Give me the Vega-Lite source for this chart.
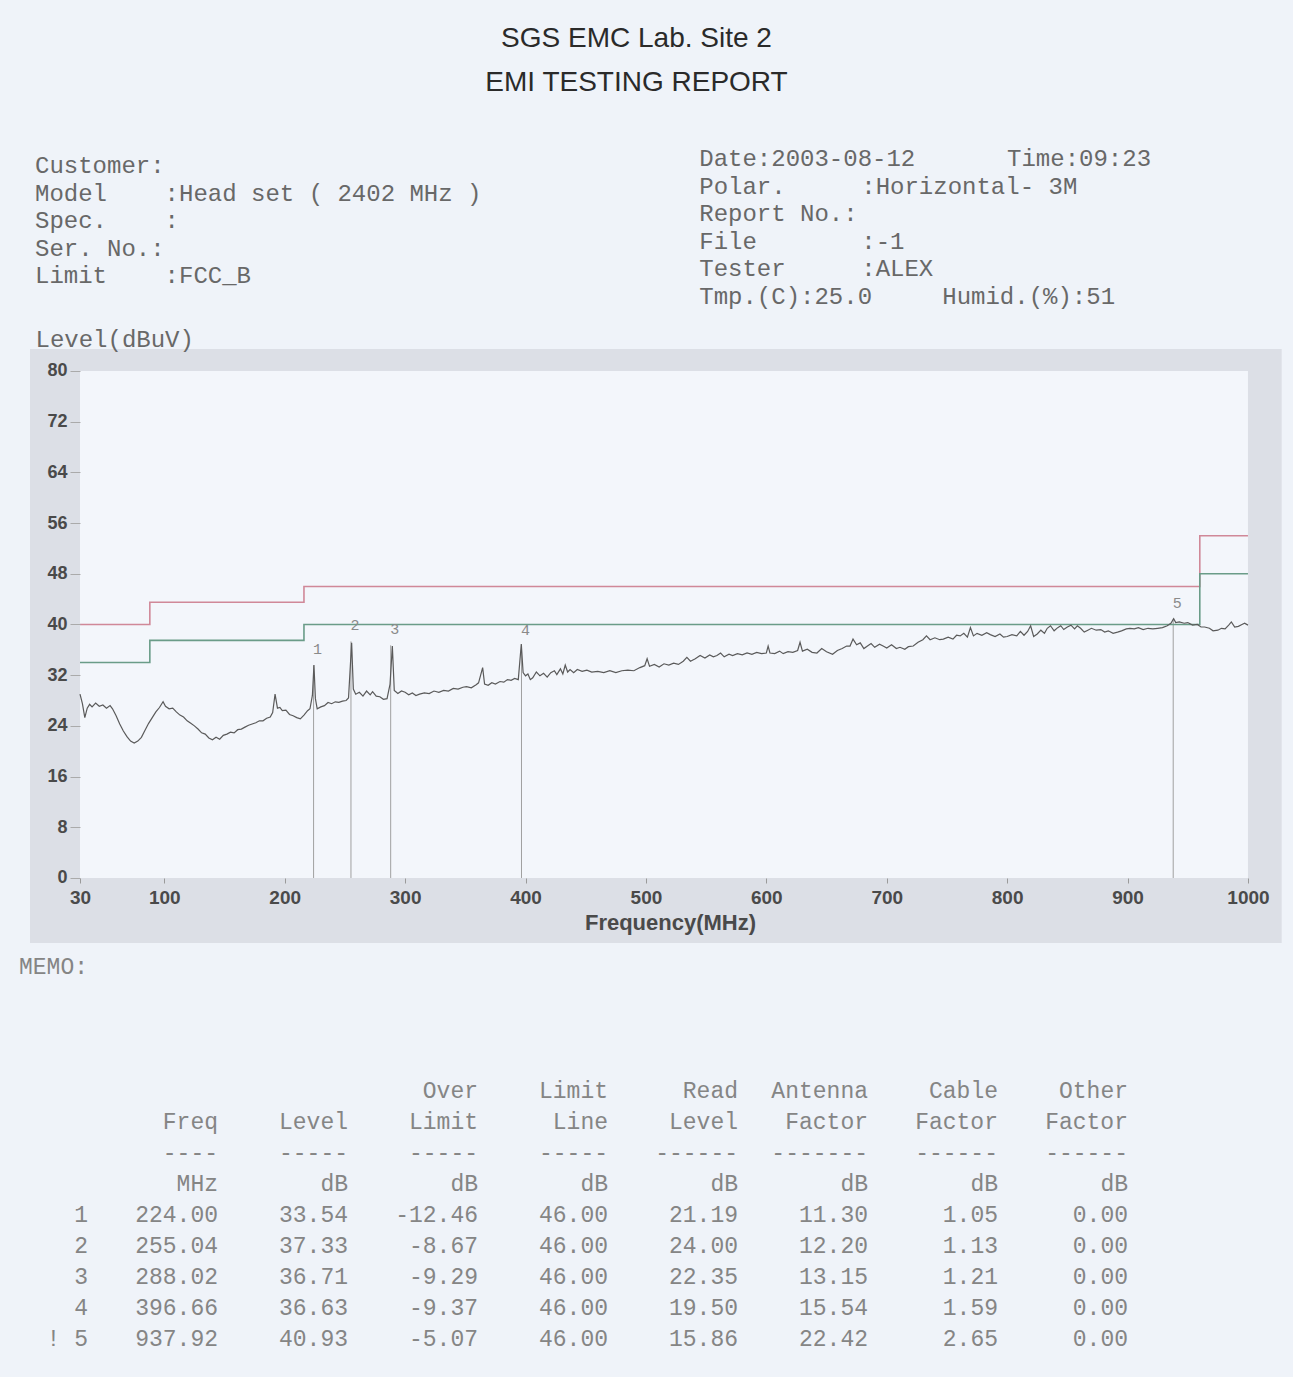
{
  "$schema": "https://vega.github.io/schema/vega-lite/v6.json",
  "background": "#eff3f9",
  "padding": {"left": 0, "right": 0, "top": 25, "bottom": 0},
  "bounds": "flush",
  "spacing": 0,
  "title": {
    "text": "SGS EMC Lab. Site 2",
    "subtitle": "EMI TESTING REPORT",
    "anchor": "middle",
    "font": "Liberation Sans",
    "fontSize": 28,
    "fontWeight": "normal",
    "color": "#2a2a2a",
    "subtitleFont": "Liberation Sans",
    "subtitleFontSize": 28,
    "subtitleFontWeight": "normal",
    "subtitleColor": "#2a2a2a",
    "subtitlePadding": 16,
    "offset": 13,
    "dx": -10
  },
  "config": {
    "view": {"stroke": null},
    "locale": {"number": {"decimal": ".", "thousands": ",", "grouping": [3], "currency": ["$", ""], "minus": "-"}}
  },
  "datasets": {
    "info": [
      {"side": "L", "line": 0, "col": 0, "text": "Customer:"},
      {"side": "L", "line": 1, "col": 0, "text": "Model"},
      {"side": "L", "line": 1, "col": 8, "text": ":Head set ( 2402 MHz )"},
      {"side": "L", "line": 2, "col": 0, "text": "Spec."},
      {"side": "L", "line": 2, "col": 8, "text": ":"},
      {"side": "L", "line": 3, "col": 0, "text": "Ser. No.:"},
      {"side": "L", "line": 4, "col": 0, "text": "Limit"},
      {"side": "L", "line": 4, "col": 8, "text": ":FCC_B"},
      {"side": "R", "line": 0, "col": 41, "text": "Date:2003-08-12"},
      {"side": "R", "line": 0, "col": 60, "text": "Time:09:23"},
      {"side": "R", "line": 1, "col": 41, "text": "Polar."},
      {"side": "R", "line": 1, "col": 51, "text": ":Horizontal- 3M"},
      {"side": "R", "line": 2, "col": 41, "text": "Report No.:"},
      {"side": "R", "line": 3, "col": 41, "text": "File"},
      {"side": "R", "line": 3, "col": 51, "text": ":-1"},
      {"side": "R", "line": 4, "col": 41, "text": "Tester"},
      {"side": "R", "line": 4, "col": 51, "text": ":ALEX"},
      {"side": "R", "line": 5, "col": 41, "text": "Tmp.(C):25.0"},
      {"side": "R", "line": 5, "col": 56, "text": "Humid.(%):51"}
    ],
    "limits": [
      {"f": 30, "limit": 40, "margin": 34},
      {"f": 88, "limit": 43.5, "margin": 37.5},
      {"f": 216, "limit": 46, "margin": 40},
      {"f": 960, "limit": 54, "margin": 48},
      {"f": 1000, "limit": 54, "margin": 48}
    ],
    "peaks": [
      {"No": "1", "Idx": "1", "Freq": 224.00, "Level": 33.54, "OverLimit": -12.46, "LimitLine": 46.00, "ReadLevel": 21.19, "AntennaFactor": 11.30, "CableFactor": 1.05, "OtherFactor": 0.00},
      {"No": "2", "Idx": "2", "Freq": 255.04, "Level": 37.33, "OverLimit": -8.67, "LimitLine": 46.00, "ReadLevel": 24.00, "AntennaFactor": 12.20, "CableFactor": 1.13, "OtherFactor": 0.00},
      {"No": "3", "Idx": "3", "Freq": 288.02, "Level": 36.71, "OverLimit": -9.29, "LimitLine": 46.00, "ReadLevel": 22.35, "AntennaFactor": 13.15, "CableFactor": 1.21, "OtherFactor": 0.00},
      {"No": "4", "Idx": "4", "Freq": 396.66, "Level": 36.63, "OverLimit": -9.37, "LimitLine": 46.00, "ReadLevel": 19.50, "AntennaFactor": 15.54, "CableFactor": 1.59, "OtherFactor": 0.00},
      {"No": "5", "Idx": "!  5", "Freq": 937.92, "Level": 40.93, "OverLimit": -5.07, "LimitLine": 46.00, "ReadLevel": 15.86, "AntennaFactor": 22.42, "CableFactor": 2.65, "OtherFactor": 0.00}
    ],
    "tablehead": [
      {"row": "memo", "key": "Idx", "text": "MEMO:"},
      {"row": "h1", "key": "OverLimit", "text": "Over"},
      {"row": "h1", "key": "LimitLine", "text": "Limit"},
      {"row": "h1", "key": "ReadLevel", "text": "Read"},
      {"row": "h1", "key": "AntennaFactor", "text": "Antenna"},
      {"row": "h1", "key": "CableFactor", "text": "Cable"},
      {"row": "h1", "key": "OtherFactor", "text": "Other"},
      {"row": "h2", "key": "Freq", "text": "Freq"},
      {"row": "h2", "key": "Level", "text": "Level"},
      {"row": "h2", "key": "OverLimit", "text": "Limit"},
      {"row": "h2", "key": "LimitLine", "text": "Line"},
      {"row": "h2", "key": "ReadLevel", "text": "Level"},
      {"row": "h2", "key": "AntennaFactor", "text": "Factor"},
      {"row": "h2", "key": "CableFactor", "text": "Factor"},
      {"row": "h2", "key": "OtherFactor", "text": "Factor"},
      {"row": "dash", "key": "Freq", "text": "----"},
      {"row": "dash", "key": "Level", "text": "-----"},
      {"row": "dash", "key": "OverLimit", "text": "-----"},
      {"row": "dash", "key": "LimitLine", "text": "-----"},
      {"row": "dash", "key": "ReadLevel", "text": "------"},
      {"row": "dash", "key": "AntennaFactor", "text": "-------"},
      {"row": "dash", "key": "CableFactor", "text": "------"},
      {"row": "dash", "key": "OtherFactor", "text": "------"},
      {"row": "unit", "key": "Freq", "text": "MHz"},
      {"row": "unit", "key": "Level", "text": "dB"},
      {"row": "unit", "key": "OverLimit", "text": "dB"},
      {"row": "unit", "key": "LimitLine", "text": "dB"},
      {"row": "unit", "key": "ReadLevel", "text": "dB"},
      {"row": "unit", "key": "AntennaFactor", "text": "dB"},
      {"row": "unit", "key": "CableFactor", "text": "dB"},
      {"row": "unit", "key": "OtherFactor", "text": "dB"}
    ],
    "trace": [
      {"f":30,"L":29.0},{"f":32,"L":27.5},{"f":34,"L":25.3},{"f":36,"L":26.8},{"f":38,"L":27.4},{"f":40,"L":27.0},{"f":43,"L":27.6},{"f":46,"L":27.1},{"f":49,"L":27.3},{"f":52,"L":26.8},{"f":55,"L":27.2},{"f":57,"L":26.7},{"f":60,"L":25.6},{"f":63,"L":24.3},{"f":66,"L":23.2},{"f":69,"L":22.3},{"f":72,"L":21.6},{"f":75,"L":21.3},{"f":78,"L":21.6},
      {"f":81,"L":22.2},{"f":84,"L":23.3},{"f":87,"L":24.4},{"f":90,"L":25.3},{"f":93,"L":26.2},{"f":96,"L":26.9},{"f":99,"L":27.8},{"f":101,"L":27.1},{"f":104,"L":26.7},{"f":107,"L":26.8},{"f":110,"L":26.2},{"f":113,"L":25.7},{"f":116,"L":25.4},{"f":119,"L":24.8},{"f":122,"L":24.4},{"f":125,"L":24.0},{"f":128,"L":23.5},{"f":131,"L":22.9},{"f":134,"L":22.7},{"f":137,"L":22.1},{"f":140,"L":21.8},{"f":143,"L":22.2},{"f":146,"L":21.9},{"f":149,"L":22.5},{"f":152,"L":22.7},{"f":155,"L":23.0},{"f":158,"L":22.9},{"f":161,"L":23.4},{"f":164,"L":23.5},{"f":167,"L":23.8},{"f":170,"L":24.1},{"f":173,"L":24.3},{"f":176,"L":24.5},{"f":179,"L":24.8},
      {"f":182,"L":24.8},{"f":185,"L":25.2},{"f":188,"L":25.4},{"f":190,"L":26.1},{"f":192,"L":29.0},{"f":194,"L":26.8},{"f":196,"L":26.9},{"f":198,"L":26.4},{"f":201,"L":26.5},{"f":204,"L":25.8},{"f":207,"L":25.6},{"f":210,"L":25.3},{"f":213,"L":25.1},{"f":216,"L":25.7},{"f":219,"L":26.4},{"f":221,"L":26.7},{"f":223,"L":28.8},{"f":224.3,"L":33.6},{"f":225.5,"L":28.3},{"f":227,"L":26.7},{"f":230,"L":27.0},{"f":233,"L":27.2},{"f":236,"L":27.7},{"f":239,"L":27.5},{"f":242,"L":27.8},{"f":245,"L":27.7},{"f":248,"L":27.9},{"f":251,"L":28.0},{"f":253,"L":28.4},{"f":255.6,"L":37.1},{"f":257,"L":29.8},{"f":259,"L":29.0},{"f":262,"L":29.3},{"f":265,"L":28.7},{"f":268,"L":29.5},{"f":271,"L":28.9},{"f":273,"L":29.4},{"f":276,"L":28.7},
      {"f":279,"L":28.6},{"f":282,"L":28.2},{"f":285,"L":28.3},{"f":287.5,"L":30.6},{"f":289.4,"L":36.6},{"f":291,"L":29.6},{"f":294,"L":29.1},{"f":297,"L":29.5},{"f":300,"L":29.3},{"f":303,"L":28.9},{"f":306,"L":29.2},{"f":309,"L":28.8},{"f":312,"L":29.0},{"f":316,"L":29.2},{"f":320,"L":29.1},{"f":324,"L":29.5},{"f":328,"L":29.3},{"f":332,"L":29.6},{"f":336,"L":29.5},{"f":340,"L":29.9},{"f":344,"L":29.8},{"f":348,"L":30.1},{"f":351,"L":30.2},{"f":355,"L":30.0},{"f":359,"L":30.5},{"f":361,"L":30.8},{"f":364.4,"L":33.2},{"f":366,"L":30.6},{"f":369,"L":30.4},{"f":372,"L":30.8},{"f":375,"L":30.6},
      {"f":378.8,"L":31.0},{"f":382,"L":30.9},{"f":385,"L":31.3},{"f":388,"L":31.2},{"f":391,"L":31.5},{"f":394,"L":31.3},{"f":396.5,"L":36.9},{"f":398,"L":32.4},{"f":400,"L":31.9},{"f":402,"L":32.2},{"f":404,"L":31.3},{"f":406,"L":31.6},{"f":409,"L":32.5},{"f":412,"L":31.9},{"f":415,"L":32.3},{"f":418,"L":31.7},{"f":421,"L":32.4},{"f":424,"L":32.7},{"f":426,"L":32.1},{"f":429,"L":33.0},{"f":431,"L":32.2},{"f":433,"L":33.6},{"f":435,"L":32.5},{"f":437,"L":32.9},{"f":440,"L":32.4},{"f":443,"L":32.9},{"f":447,"L":32.6},{"f":451,"L":32.8},{"f":455,"L":32.5},{"f":460,"L":32.6},{"f":465,"L":32.4},{"f":470,"L":32.7},{"f":475,"L":32.4},{"f":480,"L":32.7},
      {"f":485,"L":32.8},{"f":490,"L":32.7},{"f":495,"L":33.2},{"f":499,"L":33.5},{"f":501,"L":34.6},{"f":503,"L":33.4},{"f":507,"L":33.7},{"f":511,"L":33.3},{"f":515,"L":33.8},{"f":519,"L":33.6},{"f":523,"L":33.9},{"f":527,"L":33.7},{"f":531,"L":34.2},{"f":534,"L":34.8},{"f":537,"L":34.2},{"f":541,"L":34.6},{"f":545,"L":35.1},{"f":549,"L":34.7},{"f":553,"L":35.2},{"f":556,"L":34.9},{"f":559,"L":35.1},{"f":562,"L":35.5},{"f":565,"L":34.9},{"f":569,"L":35.3},{"f":572,"L":35.1},{"f":576,"L":35.4},{"f":580,"L":35.2},
      {"f":584,"L":35.5},{"f":588,"L":35.3},{"f":592,"L":35.6},{"f":596,"L":35.4},{"f":600,"L":35.5},{"f":601.5,"L":36.6},{"f":603,"L":35.5},{"f":607,"L":35.4},{"f":611,"L":35.8},{"f":614,"L":35.4},{"f":618,"L":35.7},{"f":622,"L":35.6},{"f":626,"L":35.9},{"f":628,"L":37.2},{"f":630,"L":35.8},{"f":634,"L":36.1},{"f":638,"L":35.6},{"f":642,"L":35.5},{"f":646,"L":36.2},{"f":650,"L":35.7},{"f":655,"L":35.3},{"f":659,"L":35.9},{"f":663,"L":36.2},{"f":666.7,"L":36.6},{"f":669.5,"L":36.6},{"f":672,"L":37.7},{"f":675,"L":36.8},{"f":678,"L":37.1},
      {"f":681,"L":36.2},{"f":684,"L":36.6},{"f":687,"L":37.0},{"f":690,"L":36.4},{"f":694,"L":36.9},{"f":697,"L":36.6},{"f":700,"L":36.3},{"f":704,"L":36.8},{"f":708,"L":36.2},{"f":711,"L":36.4},{"f":715,"L":36.1},{"f":718,"L":36.5},{"f":722,"L":36.6},{"f":726,"L":37.2},{"f":730,"L":37.6},{"f":733,"L":38.2},{"f":736,"L":37.6},{"f":740,"L":37.9},{"f":744,"L":37.6},{"f":747,"L":37.7},{"f":751,"L":38.0},{"f":755,"L":37.7},{"f":758,"L":38.3},{"f":761,"L":38.2},{"f":764,"L":38.6},{"f":767,"L":38.0},{"f":769.5,"L":39.5},{"f":772,"L":38.2},{"f":775,"L":38.6},{"f":779,"L":38.3},
      {"f":783,"L":38.7},{"f":786,"L":38.4},{"f":790,"L":38.1},{"f":794,"L":38.5},{"f":797,"L":38.0},{"f":800,"L":38.1},{"f":804,"L":38.4},{"f":808,"L":38.2},{"f":811,"L":38.9},{"f":814,"L":38.3},{"f":817,"L":38.9},{"f":819.5,"L":39.8},{"f":822,"L":38.1},{"f":825,"L":38.5},{"f":828,"L":39.1},{"f":831,"L":38.6},{"f":833.3,"L":39.4},{"f":836,"L":39.8},{"f":839,"L":39.0},{"f":842,"L":39.5},{"f":844.5,"L":39.8},{"f":847,"L":39.2},{"f":850,"L":39.6},{"f":853,"L":39.9},{"f":856,"L":39.3},{"f":858.3,"L":39.8},{"f":861,"L":39.4},{"f":864,"L":38.8},{"f":867,"L":39.1},{"f":870,"L":39.4},{"f":874,"L":39.1},{"f":877.8,"L":39.2},
      {"f":881,"L":38.8},{"f":884,"L":39.0},{"f":888,"L":38.6},{"f":891.7,"L":38.8},{"f":895,"L":39.0},{"f":899,"L":39.3},{"f":902,"L":39.4},{"f":905.6,"L":39.3},{"f":909,"L":39.5},{"f":913,"L":39.2},{"f":917,"L":39.4},{"f":921,"L":39.3},{"f":925,"L":39.4},{"f":929,"L":39.5},{"f":933,"L":39.8},{"f":936,"L":40.2},{"f":938.3,"L":40.9},{"f":940,"L":40.3},{"f":943,"L":40.4},{"f":947,"L":40.2},{"f":950,"L":40.3},{"f":954,"L":39.9},{"f":958,"L":40.0},{"f":961,"L":39.6},{"f":964,"L":39.6},{"f":968,"L":39.4},{"f":971,"L":39.0},{"f":975,"L":39.1},{"f":978,"L":39.4},{"f":981,"L":39.3},{"f":984,"L":39.9},{"f":986.2,"L":40.4},{"f":989,"L":39.6},{"f":992,"L":39.7},{"f":995,"L":40.0},{"f":997.2,"L":40.2},{"f":1000,"L":39.9}
    ]
  },
  "vconcat": [
    {
      "width": 1293,
      "height": 239,
      "data": {"name": "info"},
      "layer": [
        {
          "transform": [{"filter": "datum.side === 'L'"}],
          "mark": {"type": "text", "align": "left", "baseline": "middle", "font": "Liberation Mono", "fontSize": 24, "color": "#686868", "dy": 7},
          "encoding": {
            "x": {"field": "col", "type": "quantitative", "scale": {"domain": [-2.16, 77.65], "nice": false, "zero": false}, "axis": null},
            "y": {"field": "line", "type": "quantitative", "scale": {"domain": [-1.775, 6.884], "nice": false, "zero": false, "reverse": true}, "axis": null},
            "text": {"field": "text"}
          }
        },
        {
          "transform": [{"filter": "datum.side === 'R'"}],
          "mark": {"type": "text", "align": "left", "baseline": "middle", "font": "Liberation Mono", "fontSize": 24, "color": "#686868"},
          "encoding": {
            "x": {"field": "col", "type": "quantitative"},
            "y": {"field": "line", "type": "quantitative"},
            "text": {"field": "text"}
          }
        }
      ]
    },
    {
      "width": 1293,
      "height": 594,
      "layer": [
        {
          "data": {"values": [{}]},
          "mark": {"type": "rect", "fill": "#dcdfe6"},
          "encoding": {
            "x": {"datum": -11.5, "type": "quantitative",
              "scale": {"domain": [-36.44, 1037.4], "nice": false, "zero": false},
              "axis": {"orient": "bottom", "offset": -65, "values": [30, 100, 200, 300, 400, 500, 600, 700, 800, 900, 1000], "format": "d", "domain": false, "grid": false, "ticks": true, "tickSize": 5, "tickColor": "#9a9a9a", "labelFont": "Liberation Sans", "labelFontWeight": "bold", "labelFontSize": 19, "labelColor": "#4a4a4a", "labelPadding": 5, "labelFlush": false, "labelOverlap": false, "title": "Frequency(MHz)", "titleFont": "Liberation Sans", "titleFontWeight": "bold", "titleFontSize": 22, "titleColor": "#4a4a4a", "titleX": 670, "titleY": 44, "titleAlign": "center", "titleBaseline": "middle", "zindex": 1}},
            "x2": {"datum": 1028},
            "y": {"datum": -10.26, "type": "quantitative",
              "scale": {"domain": [-10.26, 83.47], "nice": false, "zero": false},
              "axis": {"orient": "left", "offset": -80, "values": [0, 8, 16, 24, 32, 40, 48, 56, 64, 72, 80], "domain": false, "grid": false, "ticks": true, "tickSize": 10, "tickColor": "#aaaaaa", "labelFont": "Liberation Sans", "labelFontWeight": "bold", "labelFontSize": 18, "labelColor": "#4a4a4a", "labelPadding": 3, "title": "Level(dBuV)", "titleAngle": 0, "titleAlign": "left", "titleBaseline": "alphabetic", "titleFont": "Liberation Mono", "titleFontWeight": "normal", "titleFontSize": 24, "titleColor": "#686868", "titleX": -45, "titleY": -3, "zindex": 1}},
            "y2": {"datum": 83.47}
          }
        },
        {
          "data": {"values": [{}]},
          "mark": {"type": "rect", "fill": "#f3f6fb"},
          "encoding": {
            "x": {"datum": 30, "type": "quantitative"},
            "x2": {"datum": 1000},
            "y": {"datum": 0, "type": "quantitative"},
            "y2": {"datum": 80}
          }
        },
        {
          "data": {"name": "peaks"},
          "mark": {"type": "rule", "color": "#a0a0a0", "strokeWidth": 1},
          "encoding": {
            "x": {"field": "Freq", "type": "quantitative"},
            "y": {"field": "Level", "type": "quantitative"},
            "y2": {"datum": 0}
          }
        },
        {
          "data": {"name": "limits"},
          "mark": {"type": "line", "interpolate": "step-after", "color": "#d08898", "strokeWidth": 1.6},
          "encoding": {
            "x": {"field": "f", "type": "quantitative"},
            "y": {"field": "limit", "type": "quantitative"}
          }
        },
        {
          "data": {"name": "limits"},
          "mark": {"type": "line", "interpolate": "step-after", "color": "#6a9c88", "strokeWidth": 1.6},
          "encoding": {
            "x": {"field": "f", "type": "quantitative"},
            "y": {"field": "margin", "type": "quantitative"}
          }
        },
        {
          "data": {"name": "trace"},
          "mark": {"type": "line", "color": "#5a5a5a", "strokeWidth": 1.2},
          "encoding": {
            "x": {"field": "f", "type": "quantitative"},
            "y": {"field": "L", "type": "quantitative"}
          }
        },
        {
          "data": {"name": "peaks"},
          "mark": {"type": "text", "font": "Liberation Mono", "fontSize": 15, "color": "#8a8a8a", "dx": 4, "dy": -16, "baseline": "middle", "align": "center"},
          "encoding": {
            "x": {"field": "Freq", "type": "quantitative"},
            "y": {"field": "Level", "type": "quantitative"},
            "text": {"field": "No"}
          }
        }
      ]
    },
    {
      "width": 1216,
      "height": 435,
      "layer": [
        {
          "data": {"name": "tablehead"},
          "mark": {"type": "text", "align": "right", "baseline": "middle", "font": "Liberation Mono", "fontSize": 23, "color": "#858585"},
          "encoding": {
            "x": {"field": "key", "type": "nominal", "scale": {"type": "point", "domain": ["Idx", "Freq", "Level", "OverLimit", "LimitLine", "ReadLevel", "AntennaFactor", "CableFactor", "OtherFactor"], "padding": 0.677}, "axis": null},
            "y": {"field": "row", "type": "nominal", "scale": {"type": "point", "domain": ["memo", "s1", "s2", "s3", "h1", "h2", "dash", "unit", "1", "2", "3", "4", "5"], "padding": 1.073, "align": 0.379}, "axis": null},
            "text": {"field": "text"}
          }
        },
        {
          "data": {"name": "peaks"},
          "transform": [{"fold": ["Freq", "Level", "OverLimit", "LimitLine", "ReadLevel", "AntennaFactor", "CableFactor", "OtherFactor"], "as": ["key", "value"]}],
          "mark": {"type": "text", "align": "right", "baseline": "middle", "font": "Liberation Mono", "fontSize": 23, "color": "#858585"},
          "encoding": {
            "x": {"field": "key", "type": "nominal"},
            "y": {"field": "No", "type": "nominal"},
            "text": {"field": "value", "type": "quantitative", "format": ".2f"}
          }
        },
        {
          "data": {"name": "peaks"},
          "transform": [{"fold": ["Idx"], "as": ["key", "value"]}],
          "mark": {"type": "text", "align": "right", "baseline": "middle", "font": "Liberation Mono", "fontSize": 23, "color": "#858585"},
          "encoding": {
            "x": {"field": "key", "type": "nominal"},
            "y": {"field": "No", "type": "nominal"},
            "text": {"field": "value", "type": "nominal"}
          }
        }
      ]
    }
  ]
}
